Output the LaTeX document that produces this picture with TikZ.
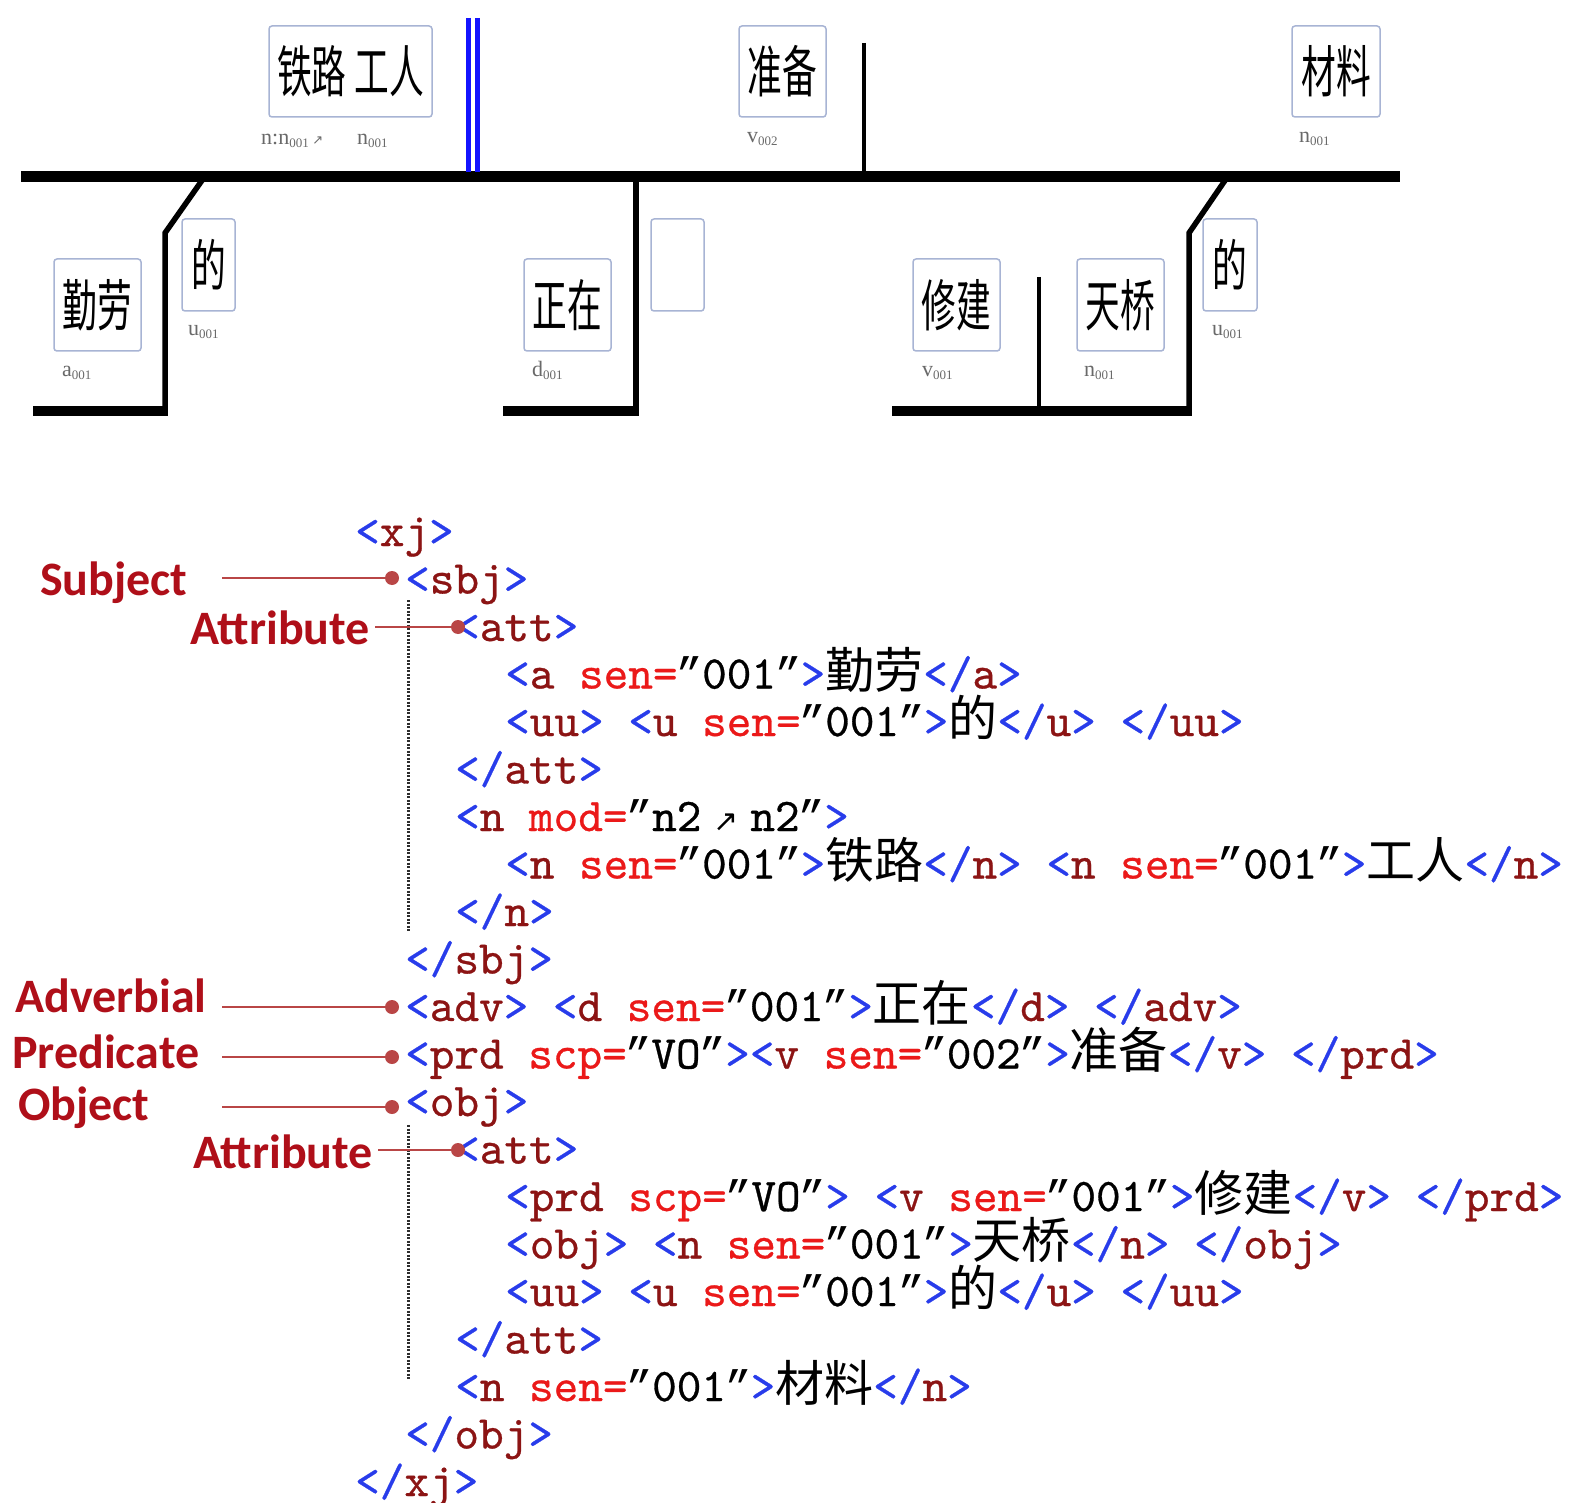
\documentclass[tikz,border=0pt]{standalone}
\usepackage{fontspec}
\setmainfont{Liberation Serif}
\newfontfamily\monof{lmmono10-regular.otf}[FakeBold=0.6]
\newfontfamily\quof{Liberation Mono}
\newfontfamily\cjkf{Noto Sans CJK SC}
\newfontfamily\cjkn{Noto Sans CJK SC}[FakeStretch=0.62]
\newfontfamily\labf{Carlito}
\newfontfamily\arrf{DejaVu Sans}
\definecolor{cblue}{RGB}{40,60,235}
\definecolor{cmar}{RGB}{140,20,20}
\definecolor{cred}{RGB}{235,25,25}
\definecolor{labred}{RGB}{175,15,25}
\definecolor{leadred}{RGB}{185,70,70}
\definecolor{boxc}{RGB}{168,180,212}
\definecolor{pblue}{RGB}{20,20,255}
\definecolor{sublab}{RGB}{105,105,105}
\newcommand\codefont{\monof\fontsize{46.9}{50}\selectfont}
\newcommand\boxfont{\cjkn\fontsize{56}{60}\selectfont}
\newcommand\labfont{\labf\bfseries\fontsize{48}{50}\selectfont}
\newcommand\Lt{\textcolor{cblue}{<}}
\newcommand\Gt{\textcolor{cblue}{>}}
\newcommand\Sla{\textcolor{cblue}{/}}
\newcommand\Tg[1]{\textcolor{cmar}{#1}}
\newcommand\At[1]{\textcolor{cred}{#1}}
\newcommand\Q{\makebox[24.6pt]{\quof\fontsize{44}{50}\selectfont ”}}
\newcommand\Zh[1]{{\cjkf\fontsize{49}{50}\selectfont #1}}
\newcommand\Ar{\makebox[49pt]{\arrf\fontsize{30}{30}\selectfont ↗}}
\newcommand\Sb[2]{#1\raisebox{-3pt}{\fontsize{13}{13}\selectfont #2}}
\begin{document}
\begin{tikzpicture}[x=1pt,y=-1pt,
  wbox/.style={draw=boxc, line width=1.5pt, rounded corners=3pt, inner sep=0pt, fill=white, font=\boxfont},
  bar/.style={line width=11pt},
  stem/.style={line width=5.5pt, line join=miter},
  foot/.style={line width=10pt},
  thinstem/.style={line width=4.5pt},
  blueline/.style={draw=pblue, line width=4.5pt},
  toplab/.style={anchor=base west, inner sep=0pt, text=sublab, font=\fontsize{22}{22}\selectfont},
  code/.style={anchor=base west, inner sep=0pt, font=\codefont},
  lab/.style={anchor=base west, inner sep=0pt, font=\labfont, text=labred},
  lead/.style={draw=leadred, line width=2.5pt},
  dot/.style={circle, fill=leadred, inner sep=0pt, minimum size=14pt},
  vdots/.style={draw=gray!35!black, dash pattern=on 2pt off 1.5pt, line width=3pt}]
\useasboundingbox (0,0) rectangle (1574,1503);
\fill[white] (0,0) rectangle (1574,1503);

% ---------- top diagram ----------
\coordinate (m1) at (21,177);
\coordinate (m2) at (1400,177);
\draw[bar] (m1) -- (m2);
\coordinate (bl1a) at (468.5,18); \coordinate (bl1b) at (468.5,172);
\coordinate (bl2a) at (477.5,18); \coordinate (bl2b) at (477.5,172);
\draw[blueline] (bl1a) -- (bl1b);
\draw[blueline] (bl2a) -- (bl2b);
\coordinate (pv1) at (864,43); \coordinate (pv2) at (864,177);
\draw[thinstem] (pv1) -- (pv2);

% branch 1
\coordinate (a1) at (203,179); \coordinate (a2) at (165,233); \coordinate (a3) at (165,411);
\coordinate (a4) at (33,411); \coordinate (a5) at (167.7,411);
\draw[stem] (a1) -- (a2) -- (a3);
\draw[foot] (a4) -- (a5);
% branch 2
\coordinate (c1) at (636,177); \coordinate (c2) at (636,411);
\coordinate (c3) at (503,411); \coordinate (c4) at (638.7,411);
\draw[stem] (c1) -- (c2);
\draw[foot] (c3) -- (c4);
% branch 3
\coordinate (e1) at (1226,179); \coordinate (e2) at (1189,233); \coordinate (e3) at (1189,411);
\coordinate (e4) at (892,411); \coordinate (e5) at (1191.7,411);
\coordinate (f1) at (1039,277); \coordinate (f2) at (1039,411);
\draw[stem] (e1) -- (e2) -- (e3);
\draw[foot] (e4) -- (e5);
\draw[thinstem] (f1) -- (f2);

% boxes
\node[wbox, minimum width=163pt, minimum height=91pt] (tlgr) at (350.5,71.5) {铁路\hspace{8pt}工人};
\node[wbox, minimum width=87pt, minimum height=91pt] (zb) at (782.5,71.5) {准备};
\node[wbox, minimum width=88pt, minimum height=91pt] (cl) at (1336,71.5) {材料};
\node[wbox, minimum width=87pt, minimum height=92pt] (ql) at (97.5,305) {勤劳};
\node[wbox, minimum width=53pt, minimum height=92pt] (de1) at (208.5,265) {的};
\node[wbox, minimum width=87pt, minimum height=92pt] (zz) at (567.5,305) {正在};
\node[wbox, minimum width=53pt, minimum height=92pt] (emp) at (677.5,265) {};
\node[wbox, minimum width=87pt, minimum height=92pt] (xj) at (956.5,305) {修建};
\node[wbox, minimum width=87pt, minimum height=92pt] (tq) at (1120.5,305) {天桥};
\node[wbox, minimum width=54pt, minimum height=92pt] (de2) at (1230,265) {的};

% small labels
\node[toplab] (ltl) at (261,145) {\Sb{n:n}{001}\,{\arrf\fontsize{13}{13}\selectfont ↗}};
\node[toplab] (lgr) at (357,145) {\Sb{n}{001}};
\node[toplab] (lzb) at (747,143) {\Sb{v}{002}};
\node[toplab] (lcl) at (1299,143) {\Sb{n}{001}};
\node[toplab] (lql) at (62,377) {\Sb{a}{001}};
\node[toplab] (lde1) at (188,336) {\Sb{u}{001}};
\node[toplab] (lzz) at (532,377) {\Sb{d}{001}};
\node[toplab] (lxj) at (922,377) {\Sb{v}{001}};
\node[toplab] (ltq) at (1084,377) {\Sb{n}{001}};
\node[toplab] (lde2) at (1212,336) {\Sb{u}{001}};

% ---------- code ----------
\node[code] (k0) at (355,546) {\Lt\Tg{xj}\Gt};
\node[code] (k1) at (405,593.5) {\Lt\Tg{sbj}\Gt};
\node[code] (k2) at (455,641) {\Lt\Tg{att}\Gt};
\node[code] (k3) at (505,688.5) {\Lt\Tg{a} \At{sen=}\Q001\Q\Gt\Zh{勤劳}\Lt\Sla\Tg{a}\Gt};
\node[code] (k4) at (505,736) {\Lt\Tg{uu}\Gt{} \Lt\Tg{u} \At{sen=}\Q001\Q\Gt\Zh{的}\Lt\Sla\Tg{u}\Gt{} \Lt\Sla\Tg{uu}\Gt};
\node[code] (k5) at (455,783.5) {\Lt\Sla\Tg{att}\Gt};
\node[code] (k6) at (455,831) {\Lt\Tg{n} \At{mod=}\Q{}n2\Ar{}n2\Q\Gt};
\node[code] (k7) at (505,878.5) {\Lt\Tg{n} \At{sen=}\Q001\Q\Gt\Zh{铁路}\Lt\Sla\Tg{n}\Gt{} \Lt\Tg{n} \At{sen=}\Q001\Q\Gt\Zh{工人}\Lt\Sla\Tg{n}\Gt};
\node[code] (k8) at (455,926) {\Lt\Sla\Tg{n}\Gt};
\node[code] (k9) at (405,973.5) {\Lt\Sla\Tg{sbj}\Gt};
\node[code] (k10) at (405,1021) {\Lt\Tg{adv}\Gt{} \Lt\Tg{d} \At{sen=}\Q001\Q\Gt\Zh{正在}\Lt\Sla\Tg{d}\Gt{} \Lt\Sla\Tg{adv}\Gt};
\node[code] (k11) at (405,1068.5) {\Lt\Tg{prd} \At{scp=}\Q{}VO\Q\Gt\Lt\Tg{v} \At{sen=}\Q002\Q\Gt\Zh{准备}\Lt\Sla\Tg{v}\Gt{} \Lt\Sla\Tg{prd}\Gt};
\node[code] (k12) at (405,1116) {\Lt\Tg{obj}\Gt};
\node[code] (k13) at (455,1163.5) {\Lt\Tg{att}\Gt};
\node[code] (k14) at (505,1211) {\Lt\Tg{prd} \At{scp=}\Q{}VO\Q\Gt{} \Lt\Tg{v} \At{sen=}\Q001\Q\Gt\Zh{修建}\Lt\Sla\Tg{v}\Gt{} \Lt\Sla\Tg{prd}\Gt};
\node[code] (k15) at (505,1258.5) {\Lt\Tg{obj}\Gt{} \Lt\Tg{n} \At{sen=}\Q001\Q\Gt\Zh{天桥}\Lt\Sla\Tg{n}\Gt{} \Lt\Sla\Tg{obj}\Gt};
\node[code] (k16) at (505,1306) {\Lt\Tg{uu}\Gt{} \Lt\Tg{u} \At{sen=}\Q001\Q\Gt\Zh{的}\Lt\Sla\Tg{u}\Gt{} \Lt\Sla\Tg{uu}\Gt};
\node[code] (k17) at (455,1353.5) {\Lt\Sla\Tg{att}\Gt};
\node[code] (k18) at (455,1401) {\Lt\Tg{n} \At{sen=}\Q001\Q\Gt\Zh{材料}\Lt\Sla\Tg{n}\Gt};
\node[code] (k19) at (405,1448.5) {\Lt\Sla\Tg{obj}\Gt};
\node[code] (k20) at (355,1496) {\Lt\Sla\Tg{xj}\Gt};

% dotted guides
\coordinate (g1) at (408,600); \coordinate (g2) at (408,932);
\coordinate (g3) at (408,1125); \coordinate (g4) at (408,1380);
\draw[vdots] (g1) -- (g2);
\draw[vdots] (g3) -- (g4);

% ---------- labels and leads ----------
\node[lab] (Ls) at (40,595) {Subject};
\node[lab] (La1) at (190,644) {Attribute};
\node[lab] (Lad) at (15,1012) {Adverbial};
\node[lab] (Lp) at (12,1068) {Predicate};
\node[lab] (Lo) at (18,1120) {Object};
\node[lab] (La2) at (193,1168) {Attribute};

\coordinate (s1) at (222,578);
\coordinate (s2) at (375,627);
\coordinate (s3) at (222,1007);
\coordinate (s4) at (222,1057);
\coordinate (s5) at (222,1107);
\coordinate (s6) at (378,1150);
\node[dot] (d1) at (392,578) {};
\node[dot] (d2) at (458,627) {};
\node[dot] (d3) at (392,1007) {};
\node[dot] (d4) at (392,1057) {};
\node[dot] (d5) at (392,1107) {};
\node[dot] (d6) at (458,1150) {};
\draw[lead] (s1) -- (d1.center);
\draw[lead] (s2) -- (d2.center);
\draw[lead] (s3) -- (d3.center);
\draw[lead] (s4) -- (d4.center);
\draw[lead] (s5) -- (d5.center);
\draw[lead] (s6) -- (d6.center);
\end{tikzpicture}
\end{document}
